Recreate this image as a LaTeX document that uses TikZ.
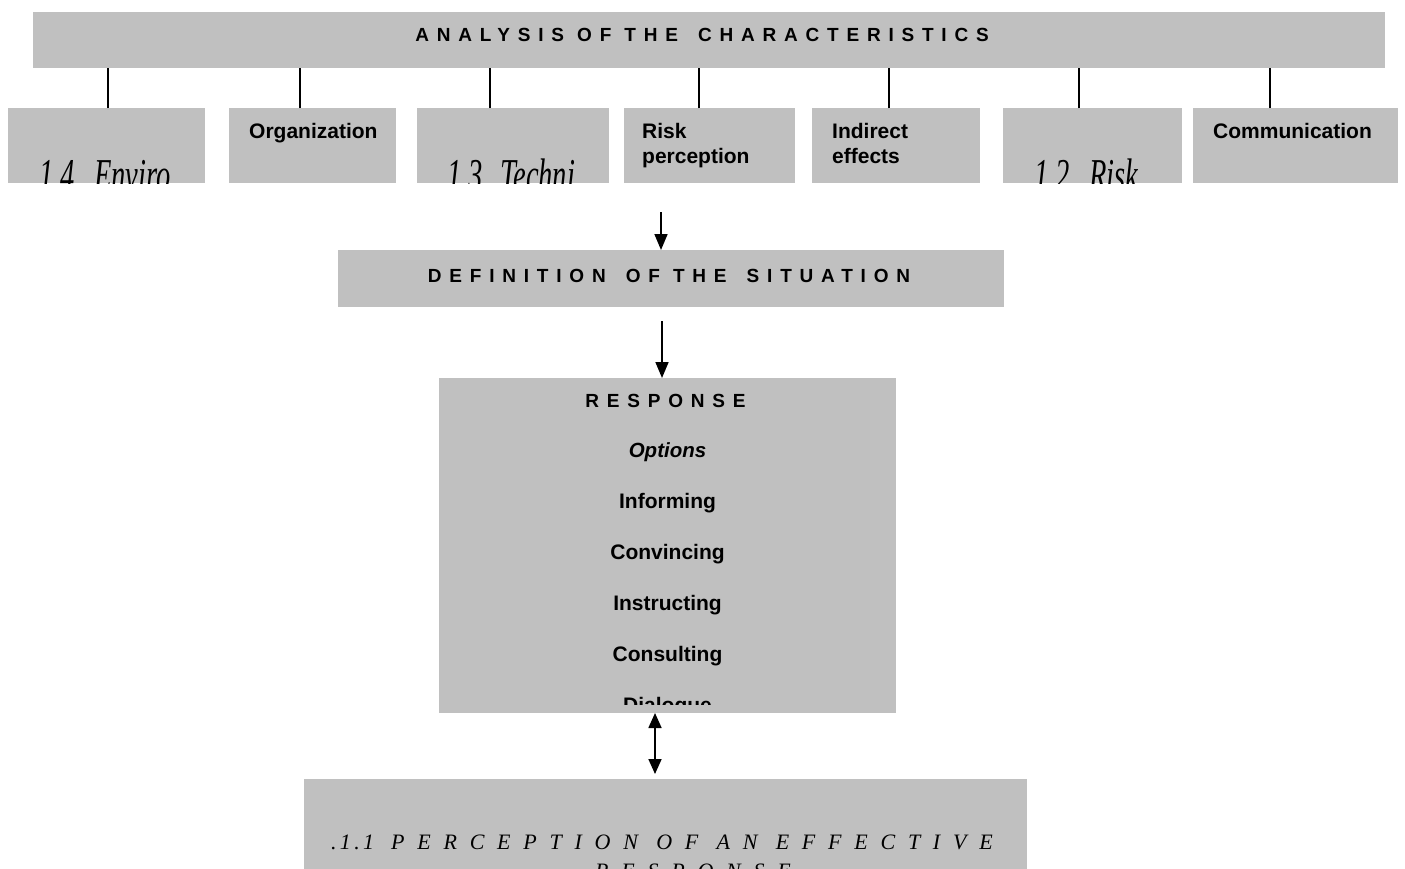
\documentclass[tikz,border=0pt]{standalone}
\usepackage{fontspec}
\usepackage{graphicx}
\setmainfont{Liberation Sans}
\newfontfamily\spacedsans[LetterSpace=41]{Liberation Sans}
\newfontfamily\tms{Liberation Serif}
\newfontfamily\tmsnum[LetterSpace=15]{Liberation Serif}
\newfontfamily\spacedserif[LetterSpace=58]{Liberation Serif}
\usetikzlibrary{arrows.meta}
\definecolor{boxgray}{RGB}{192,192,192}
\newcommand\tallit[1]{\scalebox{1}[1.6]{#1}}
\tikzset{
  box/.style={fill=boxgray, draw=none, inner sep=0pt, outer sep=0pt, anchor=north west},
  hdr/.style={inner sep=0pt, anchor=base, font=\spacedsans\bfseries\fontsize{19}{22}\selectfont},
  lbl/.style={inner sep=0pt, anchor=base west, font=\bfseries\fontsize{21}{24}\selectfont},
  opt/.style={inner sep=0pt, anchor=base, font=\bfseries\fontsize{21}{24}\selectfont},
  itl/.style={inner sep=0pt, anchor=base west, font=\tms\itshape\fontsize{28.5}{30}\selectfont},
  bignum/.style={inner sep=0pt, anchor=base west, font=\tmsnum\itshape\fontsize{22}{26}\selectfont},
  bigit/.style={inner sep=0pt, anchor=base west, font=\spacedserif\itshape\fontsize{22}{26}\selectfont},
  conn/.style={draw=black, line width=1.3pt},
  arr/.style={draw=black, line width=1.7pt, -{Triangle[length=16pt,width=13pt]}},
  arrtwo/.style={draw=black, line width=1.7pt, {Triangle[length=15pt,width=13pt]}-{Triangle[length=15pt,width=13pt]}},
}
\begin{document}
\begin{tikzpicture}[x=1pt,y=-1pt]
\useasboundingbox (0,0) rectangle (1405,868);

% top box
\node[box, minimum width=1352, minimum height=56] (top) at (33,12) {};
\node[hdr] (toptxt) at (702,41) {ANALYSIS OF THE\hspace{7pt} CHARACTERISTICS};

% lower boxes
\node[box, minimum width=197, minimum height=75] (b1) at (8,108) {};
\node[box, minimum width=167, minimum height=75] (b2) at (229,108) {};
\node[box, minimum width=192, minimum height=75] (b3) at (417,108) {};
\node[box, minimum width=171, minimum height=75] (b4) at (624,108) {};
\node[box, minimum width=168, minimum height=75] (b5) at (812,108) {};
\node[box, minimum width=179, minimum height=75] (b6) at (1003,108) {};
\node[box, minimum width=205, minimum height=75] (b7) at (1193,108) {};

% connectors
\path (b1.north west) ++(100,0) coordinate (c1);
\path (b2.north west) ++(71,0) coordinate (c2);
\path (b3.north west) ++(73,0) coordinate (c3);
\path (b4.north west) ++(75,0) coordinate (c4);
\path (b5.north west) ++(77,0) coordinate (c5);
\path (b6.north west) ++(76,0) coordinate (c6);
\path (b7.north west) ++(77,0) coordinate (c7);
\foreach \c in {c1,c2,c3,c4,c5,c6,c7}{
  \draw[conn] (\c) -- (\c |- top.south);
}

% lower box texts
\node[lbl] (t2) at (249,138) {Organization};
\node[lbl] (t4a) at (642,138) {Risk};
\node[lbl] (t4b) at (642,163) {perception};
\node[lbl] (t5a) at (832,138) {Indirect};
\node[lbl] (t5b) at (832,163) {effects};
\node[lbl] (t7) at (1213,138) {Communication};

\begin{scope}
  \clip (b1.north west) rectangle (b1.south east);
  \node[itl] (t1) at (39,190) {\tallit{\makebox[55pt][l]{1.4}Enviro}};
\end{scope}
\begin{scope}
  \clip (b3.north west) rectangle (b3.south east);
  \node[itl] (t3) at (447,190) {\tallit{\makebox[53pt][l]{1.3}Techni}};
\end{scope}
\begin{scope}
  \clip (b6.north west) rectangle (b6.south east);
  \node[itl] (t6) at (1034,190) {\tallit{\makebox[55pt][l]{1.2}Risk}};
\end{scope}

% definition
\node[box, minimum width=666, minimum height=57] (def) at (338,250) {};
\node[hdr] (deftxt) at (669,282) {DEFINITION\hspace{7pt} OF THE\hspace{7pt} SITUATION};
\coordinate (a1) at (661,212);
\draw[arr] (a1) -- (a1 |- def.north);

% response
\node[box, minimum width=457, minimum height=335] (resp) at (439,378) {};
\coordinate (a2) at (662,321);
\draw[arr] (a2) -- (a2 |- resp.north);
\node[hdr] (rtitle) at (665.5,407) {RESPONSE};
\node[opt, font=\bfseries\itshape\fontsize{20.5}{24}\selectfont] (r0) at (667.5,457) {Options};
\node[opt] (r1) at (667.5,508) {Informing};
\node[opt] (r2) at (667.5,559) {Convincing};
\node[opt] (r3) at (667.5,610) {Instructing};
\node[opt] (r4) at (667.5,661) {Consulting};
\begin{scope}
  \clip (439,378) rectangle (896,704);
  \node[opt] (r5) at (667.5,712) {Dialogue};
\end{scope}

% bottom box
\node[box, minimum width=723, minimum height=120] (bot) at (304,779) {};
\coordinate (a3) at (655,713);
\draw[arrtwo, shorten >=5pt] (a3) -- (a3 |- bot.north);
\node[bignum] (bt0) at (331,849) {.1.1};
\node[bigit] (bt1) at (391,849) {PERCEPTION OF AN EFFECTIVE};
\node[bigit] (bt2) at (595,878) {RESPONSE};
\end{tikzpicture}
\end{document}
